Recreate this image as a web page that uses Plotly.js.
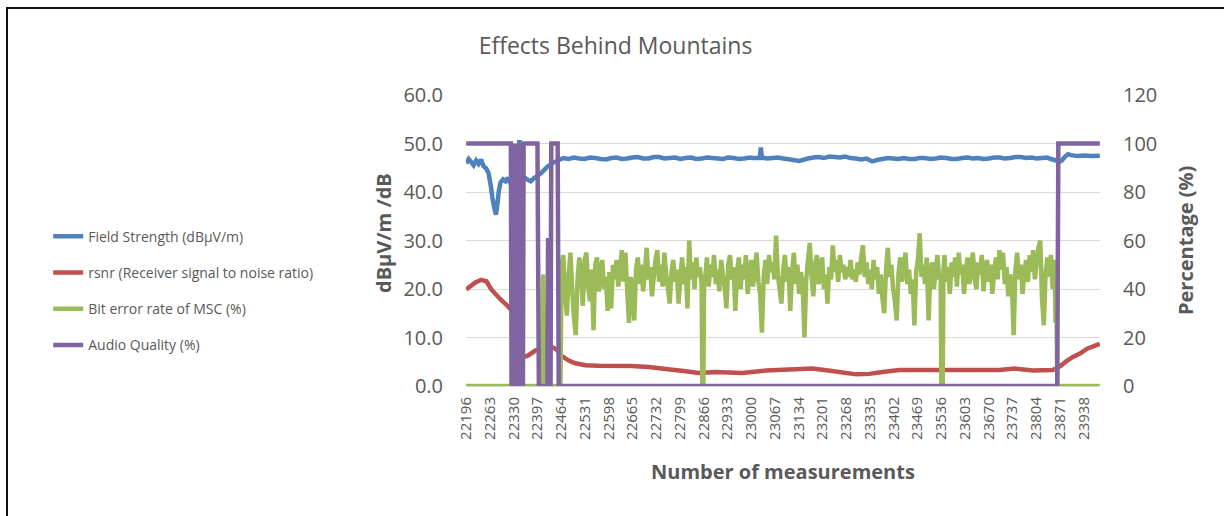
<!DOCTYPE html>
<html>
<head>
<meta charset="utf-8">
<script src="https://cdn.plot.ly/plotly-3.0.1.min.js"></script>
<style>
  html, body { margin: 0; padding: 0; background: #fff; }
  #wrap { position: relative; width: 1231px; height: 516px; overflow: hidden; }
  #chart { position: absolute; left: 0; top: 0; width: 1231px; height: 516px; }
  #frame { position: absolute; left: 6px; top: 7px; width: 1216px; height: 520px;
           border-left: 2px solid #111; border-top: 2px solid #111; pointer-events: none; }
</style>
</head>
<body>
<div id="wrap"><div id="chart"></div><div id="frame"></div></div>
<script>
// ---- Data ----
const chartTitle = "Effects Behind Mountains";
const seriesNames = ["Field Strength (dB\u03bcV/m)", "rsnr (Receiver signal to noise ratio)", "Bit error rate of MSC (%)", "Audio Quality (%)"];
const xTickLabels = [22196, 22263, 22330, 22397, 22464, 22531, 22598, 22665, 22732, 22799, 22866, 22933, 23000, 23067, 23134, 23201, 23268, 23335, 23402, 23469, 23536, 23603, 23670, 23737, 23804, 23871, 23938];
const firstMeasurement = 22196;
const lastMeasurement = 23983;

// Field strength (dBµV/m), left axis
const fieldX = [22196,22203,22210,22217,22224,22231,22238,22245,22252,22259,22265,22270,22276,22280,22284,22288,22293,22300,22307,22314,22320,22328,22336,22342,22346,22349,22353,22360,22370,22378,22388,22398,22410,22425,22440,22455,22470,22485,22500,22515,22530,22545,22560,22575,22590,22605,22620,22635,22650,22665,22680,22695,22710,22725,22740,22755,22770,22785,22800,22815,22830,22845,22860,22875,22890,22905,22920,22935,22950,22965,22980,22995,23005,23024,23027,23030,23045,23060,23075,23090,23110,23135,23160,23175,23190,23205,23220,23235,23250,23265,23280,23295,23310,23325,23341,23355,23370,23385,23400,23415,23430,23445,23460,23475,23490,23505,23520,23535,23550,23565,23580,23595,23610,23625,23640,23655,23670,23685,23700,23715,23730,23745,23760,23775,23790,23805,23820,23835,23845,23860,23868,23876,23885,23893,23902,23920,23940,23960,23983];
const fieldY = [45.9,46.8,46.2,45.5,46.5,45.8,46.7,45.3,44.9,43.9,41.5,38.8,36.5,35.3,37.5,40.2,42.0,42.6,42.2,42.9,41.9,42.5,42.2,46.0,50.7,44.0,42.8,43.0,42.5,42.2,42.9,43.3,44.1,45.2,46.0,46.5,47.0,46.8,47.1,46.9,46.8,47.1,47.0,46.8,46.7,47.0,47.1,46.8,46.9,47.1,47.2,46.9,46.9,47.2,47.2,46.9,47.0,47.1,46.8,47.0,47.1,46.8,46.9,47.1,47.0,46.9,46.8,47.1,47.0,46.8,46.9,47.1,47.0,47.0,49.2,47.1,46.9,47.0,47.1,46.9,46.7,46.4,46.9,47.1,47.2,47.0,47.3,47.2,47.1,47.3,47.0,46.9,46.7,46.9,46.3,46.6,46.8,47.0,46.9,46.8,47.0,46.8,46.8,47.0,47.0,46.8,46.9,47.1,47.0,46.8,46.8,47.0,47.1,46.9,47.0,46.8,46.9,47.1,47.1,46.9,47.0,47.2,47.2,47.0,47.1,46.9,47.0,47.1,46.8,46.5,46.2,46.5,47.3,47.8,47.6,47.4,47.5,47.4,47.5];

// rsnr (dB), left axis
const rsnrX = [22196,22221,22238,22253,22267,22295,22309,22323,22332,22343,22352,22360,22371,22391,22414,22436,22450,22465,22484,22504,22533,22569,22663,22711,22759,22810,22852,22900,22974,23042,23107,23172,23228,23296,23333,23370,23418,23559,23700,23743,23794,23850,23870,23890,23907,23927,23947,23983];
const rsnrY = [19.9,21.3,21.9,21.6,19.9,17.7,16.8,15.7,13.0,9.0,6.8,6.0,6.3,7.3,7.9,8.1,7.6,6.2,5.3,4.7,4.3,4.2,4.1,3.9,3.5,3.1,2.7,2.9,2.7,3.2,3.4,3.6,3.1,2.4,2.5,2.9,3.3,3.3,3.3,3.6,3.2,3.3,4.0,5.2,6.0,6.7,7.7,8.7];

// Bit error rate of MSC (%), right axis
const berX = [22196,22410,22413,22417,22428,22430,22432,22458,22462,
  22465,22470,22475,22480,22485,22490,22495,22500,22505,22510,22515,22520,22525,22530,22535,22540,22545,22550,22555,22560,
  22565,22570,22575,22580,22585,22590,22595,22600,22605,22610,22615,22620,22625,22630,22635,22640,22645,22650,22655,22660,
  22665,22670,22675,22680,22685,22690,22695,22700,22705,22710,22715,22720,22725,22730,22735,22740,22745,22750,22755,22760,
  22765,22770,22775,22780,22785,22790,22795,22800,22805,22810,22815,22820,22825,22830,22835,22840,22845,22850,22855,22860,
  22862,22865,22867,
  22870,22875,22880,22885,22890,22895,22900,22905,22910,22915,22920,22925,22930,22935,22940,22945,22950,22955,22960,22965,
  22970,22975,22980,22985,22990,22995,23000,23005,23010,23015,23020,23025,23030,23035,23040,23045,23050,23055,23060,23065,
  23070,23075,23080,23085,23090,23095,23100,23105,23110,23115,23120,23125,23130,23135,23140,23145,23150,23155,23160,23165,
  23170,23175,23180,23185,23190,23195,23200,23205,23210,23215,23220,23225,23230,23235,23240,23245,23250,23255,23260,23265,
  23270,23275,23280,23285,23290,23295,23300,23305,23310,23315,23320,23325,23330,23335,23340,23345,23350,23355,23360,23365,
  23370,23375,23380,23385,23390,23395,23400,23405,23410,23415,23420,23425,23430,23435,23440,23445,23450,23455,23460,23465,
  23470,23475,23480,23485,23490,23495,23500,23505,23510,23515,23520,23525,23530,
  23534,23536,23540,23542,
  23545,23550,23555,23560,23565,23570,23575,23580,23585,23590,23595,23600,23605,23610,23615,23620,23625,23630,23635,23640,
  23645,23650,23655,23660,23665,23670,23675,23680,23685,23690,23695,23700,23705,23710,23715,23720,23725,23730,23735,23740,
  23745,23750,23755,23760,23765,23770,23775,23780,23785,23790,23795,23800,23805,23810,23815,23820,23825,23830,23835,23840,
  23845,23850,23855,23858,23861,23863,23983];
const berY = [0,0,46,0,0,40,0,0,0,
  50,54,38,29,45,55,40,28,21,44,53,46,33,52,55,41,35,48,23,50,
  53,39,46,52,40,45,31,47,32,50,44,52,41,48,56,43,55,40,26,45,
  38,27,48,53,42,50,39,47,57,44,49,37,45,52,56,43,50,41,55,46,
  40,34,47,52,43,48,34,45,53,42,49,32,60,44,51,40,53,45,49,42,
  0,0,46,
  44,53,41,50,45,54,42,48,39,52,46,41,32,50,54,44,49,31,47,53,
  40,50,44,54,38,46,52,41,49,55,43,38,22,45,52,42,54,47,51,44,
  62,46,40,34,48,54,43,49,31,46,55,42,50,38,47,41,20,44,52,59,
  45,37,50,54,42,48,53,40,46,34,49,44,58,47,52,43,54,47,50,44,
  49,45,52,44,48,43,51,46,53,58,45,51,42,48,40,52,44,49,38,46,
  36,30,48,57,45,50,40,35,27,46,53,43,49,55,42,48,38,44,25,47,
  52,63,45,50,42,53,27,46,51,40,48,54,44,
  46,0,0,48,
  54,43,49,38,51,45,53,41,55,46,50,38,47,53,42,49,55,44,40,51,
  46,54,39,48,52,43,50,38,47,53,44,56,48,55,42,49,37,46,41,21,
  48,55,44,50,38,46,52,43,54,47,56,44,51,57,60,36,25,46,53,45,
  54,40,52,26,30,0,0];

// Audio quality (%), right axis
const audioX = [22196,22322,22324,22326,22328,22330,22332,22334,22337,22343,22346,22348,22350,22352,22354,22356,22358,22362,22397,22401,22425,22427,22429,22434,22436,22454,22457,23863,23866,23983];
const audioY = [100,100,0,100,0,100,0,100,0,0,100,0,100,0,100,0,100,100,100,0,0,61,0,0,100,100,0,0,100,100];

// ---- Chart ----
const FONT = "Open Sans, Lato, sans-serif";
const GREY = "#595959";
const colors = ["#4F81BD", "#C0504D", "#9BBB59", "#8064A2"];

const traces = [
  {x: fieldX, y: fieldY, name: seriesNames[0], yaxis: "y", legendgroup: "a"},
  {x: rsnrX, y: rsnrY, name: seriesNames[1], yaxis: "y", legendgroup: "b"},
  {x: berX, y: berY, name: seriesNames[2], yaxis: "y2", legendgroup: "c"},
  {x: audioX, y: audioY, name: seriesNames[3], yaxis: "y2", legendgroup: "d"}
].map((t, i) => Object.assign(t, {
  type: "scatter", mode: "lines", hoverinfo: "skip",
  line: {color: colors[i], width: 4.5, simplify: false}
}));

const layout = {
  width: 1231, height: 516,
  margin: {l: 466, r: 131, t: 95, b: 130, pad: 0},
  paper_bgcolor: "#fff", plot_bgcolor: "#fff",
  font: {family: FONT, color: GREY},
  title: {text: chartTitle, x: 0.5, xref: "container", y: 1 - 46/516, yref: "container",
          xanchor: "center", yanchor: "middle", font: {family: FONT, size: 23, color: GREY}},
  showlegend: true,
  legend: {x: -0.659, xanchor: "left", y: 0.568, yanchor: "top", traceorder: "grouped",
           tracegroupgap: 15, font: {family: FONT, size: 14, color: GREY}, bgcolor: "rgba(0,0,0,0)"},
  xaxis: {
    range: [firstMeasurement - 0.5, lastMeasurement + 0.5],
    tickmode: "array", tickvals: xTickLabels, ticktext: xTickLabels.map(String),
    tickangle: -90, tickfont: {family: FONT, size: 15, color: GREY},
    showgrid: false, zeroline: false, showline: true, linecolor: "#D9D9D9", linewidth: 1,
    ticks: "outside", ticklen: 4, tickcolor: "rgba(0,0,0,0)"
  },
  yaxis: {
    range: [0, 60], dtick: 10, tick0: 0, tickformat: ".1f",
    tickfont: {family: FONT, size: 20, color: GREY},
    showgrid: true, gridcolor: "#D9D9D9", gridwidth: 1, zeroline: false, showline: false,
    ticks: "outside", ticklen: 18, tickcolor: "rgba(0,0,0,0)"
  },
  yaxis2: {
    range: [0, 120], dtick: 20, tick0: 0, overlaying: "y", side: "right",
    tickfont: {family: FONT, size: 20, color: GREY},
    showgrid: false, zeroline: false, showline: false,
    ticks: "outside", ticklen: 18, tickcolor: "rgba(0,0,0,0)"
  },
  annotations: [
    {text: "<b>dB\u03bcV/m /dB</b>", xref: "paper", yref: "paper", x: (383 - 466) / 634, y: (386 - 233) / 291,
     textangle: -90, showarrow: false, xanchor: "center", yanchor: "middle", font: {family: FONT, size: 20, color: GREY}},
    {text: "<b>Percentage (%)</b>", xref: "paper", yref: "paper", x: (1185 - 466) / 634, y: (386 - 241) / 291,
     textangle: -90, showarrow: false, xanchor: "center", yanchor: "middle", font: {family: FONT, size: 20, color: GREY}},
    {text: "<b>Number of measurements</b>", xref: "paper", yref: "paper", x: (783 - 466) / 634, y: (386 - 471) / 291,
     showarrow: false, xanchor: "center", yanchor: "middle", font: {family: FONT, size: 20, color: GREY}}
  ]
};

Plotly.newPlot("chart", traces, layout, {displayModeBar: false, staticPlot: true});
</script>
</body>
</html>
